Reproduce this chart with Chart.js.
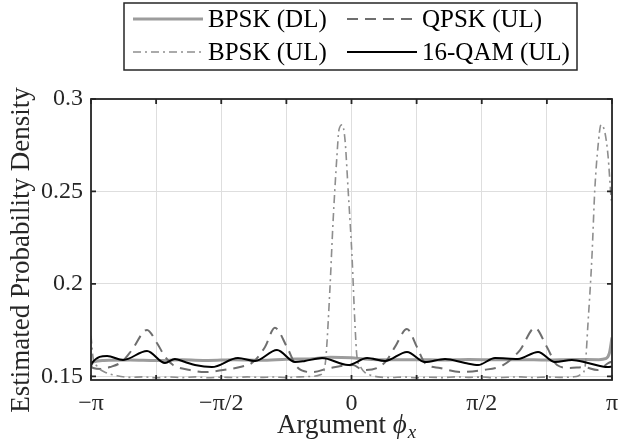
<!DOCTYPE html>
<html>
<head>
<meta charset="utf-8">
<script src="https://cdn.jsdelivr.net/npm/chart.js@4.4.1/dist/chart.umd.min.js"></script>
<style>
html, body { margin: 0; padding: 0; background: #fff; }
#grafico { display: block; }
</style>
</head>
<body>
<canvas id="grafico" width="639" height="445"></canvas>
<script>
//Datos del grafico (eje x en unidades de pi)
var ticksX = [-1, -0.75, -0.5, -0.25, 0, 0.25, 0.5, 0.75, 1];
var textosX = ['−π', '', '−π/2', '', '0', '', 'π/2', '', 'π'];
var ticksY = [0.15, 0.2, 0.25, 0.3];
var textosY = ['0.15', '0.2', '0.25', '0.3'];
var etiquetas = ['BPSK (DL)', 'QPSK (UL)', 'BPSK (UL)', '16-QAM (UL)'];

var xBpskDL = [-1, -0.99, -0.95, -0.85, -0.75, -0.65, -0.55, -0.45, -0.35, -0.25, -0.15, -0.08, 0, 0.05, 0.15, 0.25, 0.35, 0.45, 0.55, 0.65, 0.75, 0.85, 0.95, 0.975, 0.99, 1];
var yBpskDL = [0.1565, 0.1578, 0.1586, 0.1588, 0.1585, 0.1589, 0.1586, 0.1590, 0.1587, 0.1592, 0.1595, 0.1603, 0.1600, 0.1594, 0.1589, 0.1590, 0.1588, 0.1591, 0.1589, 0.1590, 0.1588, 0.1591, 0.1590, 0.1595, 0.1625, 0.1710];

var xQpsk = [-1, -0.992, -0.96, -0.927, -0.88, -0.843, -0.785, -0.747, -0.715, -0.685, -0.62, -0.562, -0.493, -0.428, -0.378, -0.332, -0.294, -0.248, -0.209, -0.152, -0.083, 0.006, 0.044, 0.098, 0.136, 0.167, 0.213, 0.251, 0.282, 0.34, 0.417, 0.505, 0.582, 0.647, 0.704, 0.75, 0.789, 0.839, 0.889, 0.944, 0.987, 1];
var yQpsk = [0.1555, 0.1545, 0.1540, 0.1550, 0.1580, 0.1642, 0.1751, 0.1680, 0.1605, 0.1561, 0.1534, 0.1523, 0.1534, 0.1550, 0.1577, 0.1659, 0.1762, 0.1659, 0.1550, 0.1523, 0.1545, 0.1561, 0.1534, 0.1545, 0.1588, 0.1659, 0.1756, 0.1659, 0.1572, 0.1545, 0.1523, 0.1534, 0.1561, 0.1642, 0.1762, 0.1659, 0.1561, 0.1545, 0.1550, 0.1534, 0.1572, 0.1580];

var xBpskUL = [-1, -0.992, -0.977, -0.95, -0.9, -0.85, -0.8, -0.75, -0.7, -0.65, -0.6, -0.55, -0.5, -0.45, -0.4, -0.35, -0.3, -0.25, -0.2, -0.15, -0.12, -0.105, -0.098, -0.083, -0.071, -0.056, -0.048, -0.036, -0.025, -0.013, 0.002, 0.013, 0.021, 0.035, 0.052, 0.075, 0.102, 0.15, 0.2, 0.25, 0.3, 0.35, 0.4, 0.45, 0.5, 0.55, 0.6, 0.65, 0.7, 0.75, 0.8, 0.85, 0.87, 0.884, 0.896, 0.908, 0.923, 0.934, 0.946, 0.958, 0.973, 0.985, 0.996, 1];
var yBpskUL = [0.1720, 0.1600, 0.1555, 0.1525, 0.1503, 0.1494, 0.1497, 0.1492, 0.1496, 0.1493, 0.1497, 0.1492, 0.1495, 0.1493, 0.1497, 0.1494, 0.1496, 0.1493, 0.1497, 0.1500, 0.1508, 0.1535, 0.1605, 0.1968, 0.2330, 0.2690, 0.2834, 0.2861, 0.2780, 0.2510, 0.2147, 0.1790, 0.1605, 0.1550, 0.1520, 0.1505, 0.1497, 0.1493, 0.1496, 0.1492, 0.1495, 0.1493, 0.1497, 0.1494, 0.1496, 0.1492, 0.1495, 0.1497, 0.1493, 0.1496, 0.1494, 0.1497, 0.1502, 0.1515, 0.1545, 0.1790, 0.2147, 0.2510, 0.2740, 0.2861, 0.2817, 0.2690, 0.2475, 0.2430];

var xQam = [-1, -0.996, -0.938, -0.877, -0.785, -0.716, -0.678, -0.639, -0.601, -0.536, -0.436, -0.37, -0.286, -0.217, -0.179, -0.113, -0.013, 0.06, 0.129, 0.213, 0.282, 0.359, 0.436, 0.486, 0.551, 0.639, 0.716, 0.781, 0.846, 0.908, 0.984, 1];
var yQam = [0.1555, 0.1572, 0.1610, 0.1588, 0.1637, 0.1572, 0.1594, 0.1577, 0.1561, 0.1550, 0.1599, 0.1583, 0.1642, 0.1577, 0.1583, 0.1599, 0.1561, 0.1599, 0.1583, 0.1632, 0.1577, 0.1594, 0.1572, 0.1561, 0.1599, 0.1594, 0.1632, 0.1577, 0.1588, 0.1572, 0.1550, 0.1552];

var fuente = '"Liberation Serif", "DejaVu Serif", serif';
var colorEjes = '#262626';

function puntos(xs, ys){
    return xs.map(function(x, i){ return {x: x, y: ys[i]}; });
}

//Leyenda con recuadro en dos columnas (estilo MATLAB)
var pluginLeyenda = {
    id: 'leyendaMatlab',
    afterDraw: function(chart){
        var ctx = chart.ctx;
        ctx.save();
        ctx.fillStyle = '#fff';
        ctx.fillRect(124, 3, 453, 67);
        ctx.strokeStyle = colorEjes;
        ctx.lineWidth = 1.5;
        ctx.strokeRect(124, 3, 453, 67);
        var columnas = [133, 347];
        var filas = [19, 52];
        ctx.font = '25px ' + fuente;
        ctx.textBaseline = 'middle';
        ctx.textAlign = 'left';
        chart.data.datasets.forEach(function(ds, i){
            var x0 = columnas[i % 2];
            var y0 = filas[Math.floor(i / 2)];
            ctx.beginPath();
            ctx.strokeStyle = ds.borderColor;
            ctx.lineWidth = ds.borderWidth;
            ctx.setLineDash(ds.borderDash || []);
            ctx.moveTo(x0, y0);
            ctx.lineTo(x0 + 70, y0);
            ctx.stroke();
            ctx.setLineDash([]);
            ctx.fillStyle = '#000';
            ctx.fillText(ds.label, x0 + 75, y0 + 1);
        });
        ctx.restore();
    }
};

//Marco, ticks hacia dentro y titulos de ejes
var pluginEjes = {
    id: 'ejesMatlab',
    afterDatasetsDraw: function(chart){
        var ctx = chart.ctx;
        var a = chart.chartArea;
        var sx = chart.scales.x, sy = chart.scales.y;
        ctx.save();
        ctx.strokeStyle = colorEjes;
        ctx.lineWidth = 1.8;
        ctx.strokeRect(a.left, a.top, a.right - a.left, a.bottom - a.top);
        ctx.beginPath();
        ticksX.forEach(function(t){
            var px = sx.getPixelForValue(t);
            ctx.moveTo(px, a.bottom); ctx.lineTo(px, a.bottom - 5);
            ctx.moveTo(px, a.top); ctx.lineTo(px, a.top + 5);
        });
        ticksY.forEach(function(t){
            var py = sy.getPixelForValue(t);
            ctx.moveTo(a.left, py); ctx.lineTo(a.left + 5, py);
            ctx.moveTo(a.right, py); ctx.lineTo(a.right - 5, py);
        });
        ctx.stroke();

        ctx.fillStyle = colorEjes;
        //titulo eje y
        ctx.save();
        ctx.translate(22, 250);
        ctx.rotate(-Math.PI / 2);
        ctx.font = '27px ' + fuente;
        ctx.textAlign = 'center';
        ctx.textBaseline = 'middle';
        ctx.fillText('Estimated Probability Density', 0, 0);
        ctx.restore();

        //titulo eje x: Argument ϕ_x
        var parte1 = 'Argument ';
        ctx.font = '27px ' + fuente;
        var w1 = ctx.measureText(parte1).width;
        ctx.font = 'italic 27px ' + fuente;
        var w2 = ctx.measureText('ϕ').width;
        ctx.font = 'italic 19px ' + fuente;
        var w3 = ctx.measureText('x').width;
        var xi = 346 - (w1 + w2 + w3) / 2;
        var base = 433;
        ctx.textAlign = 'left';
        ctx.textBaseline = 'alphabetic';
        ctx.font = '27px ' + fuente;
        ctx.fillText(parte1, xi, base);
        ctx.font = 'italic 27px ' + fuente;
        ctx.fillText('ϕ', xi + w1, base);
        ctx.font = 'italic 19px ' + fuente;
        ctx.fillText('x', xi + w1 + w2 + 1, base + 5);
        ctx.restore();
    }
};

var ctx = document.getElementById('grafico').getContext('2d');
var myChart = new Chart(ctx, {
    type: 'line',
    data: {
        datasets: [
            {
                label: etiquetas[0],
                data: puntos(xBpskDL, yBpskDL),
                borderColor: '#9c9c9c',
                borderWidth: 3,
                order: 4
            },
            {
                label: etiquetas[1],
                data: puntos(xQpsk, yQpsk),
                borderColor: '#6e6e6e',
                borderWidth: 2,
                borderDash: [11, 7],
                order: 3
            },
            {
                label: etiquetas[2],
                data: puntos(xBpskUL, yBpskUL),
                borderColor: '#8e8e8e',
                borderWidth: 1.6,
                borderDash: [8, 4, 2, 4],
                order: 2
            },
            {
                label: etiquetas[3],
                data: puntos(xQam, yQam),
                borderColor: '#000',
                borderWidth: 2,
                order: 1
            }
        ]
    },
    options: {
        responsive: false,
        animation: false,
        devicePixelRatio: 1,
        layout: {
            padding: {left: 0, right: 27, top: 99, bottom: 0}
        },
        elements: {
            point: { radius: 0 },
            line: { cubicInterpolationMode: 'monotone', fill: false }
        },
        plugins: {
            legend: { display: false },
            tooltip: { enabled: false }
        },
        scales: {
            x: {
                type: 'linear',
                min: -1,
                max: 1,
                afterFit: function(scale){ scale.height = 65; },
                afterBuildTicks: function(scale){
                    scale.ticks = ticksX.map(function(v){ return {value: v}; });
                },
                grid: { color: '#dedede', lineWidth: 1, drawTicks: false },
                border: { display: false },
                ticks: {
                    autoSkip: false,
                    maxRotation: 0,
                    padding: 9,
                    color: colorEjes,
                    font: { family: fuente, size: 24 },
                    callback: function(value){
                        var i = ticksX.indexOf(value);
                        return i >= 0 ? textosX[i] : '';
                    }
                }
            },
            y: {
                min: 0.148,
                max: 0.3,
                afterFit: function(scale){ scale.width = 91; },
                afterBuildTicks: function(scale){
                    scale.ticks = ticksY.map(function(v){ return {value: v}; });
                },
                grid: { color: '#dedede', lineWidth: 1, drawTicks: false },
                border: { display: false },
                ticks: {
                    padding: 8,
                    color: colorEjes,
                    font: { family: fuente, size: 24 },
                    callback: function(value){
                        var i = ticksY.indexOf(value);
                        return i >= 0 ? textosY[i] : '';
                    }
                }
            }
        }
    },
    plugins: [pluginEjes, pluginLeyenda]
});
</script>
</body>
</html>
